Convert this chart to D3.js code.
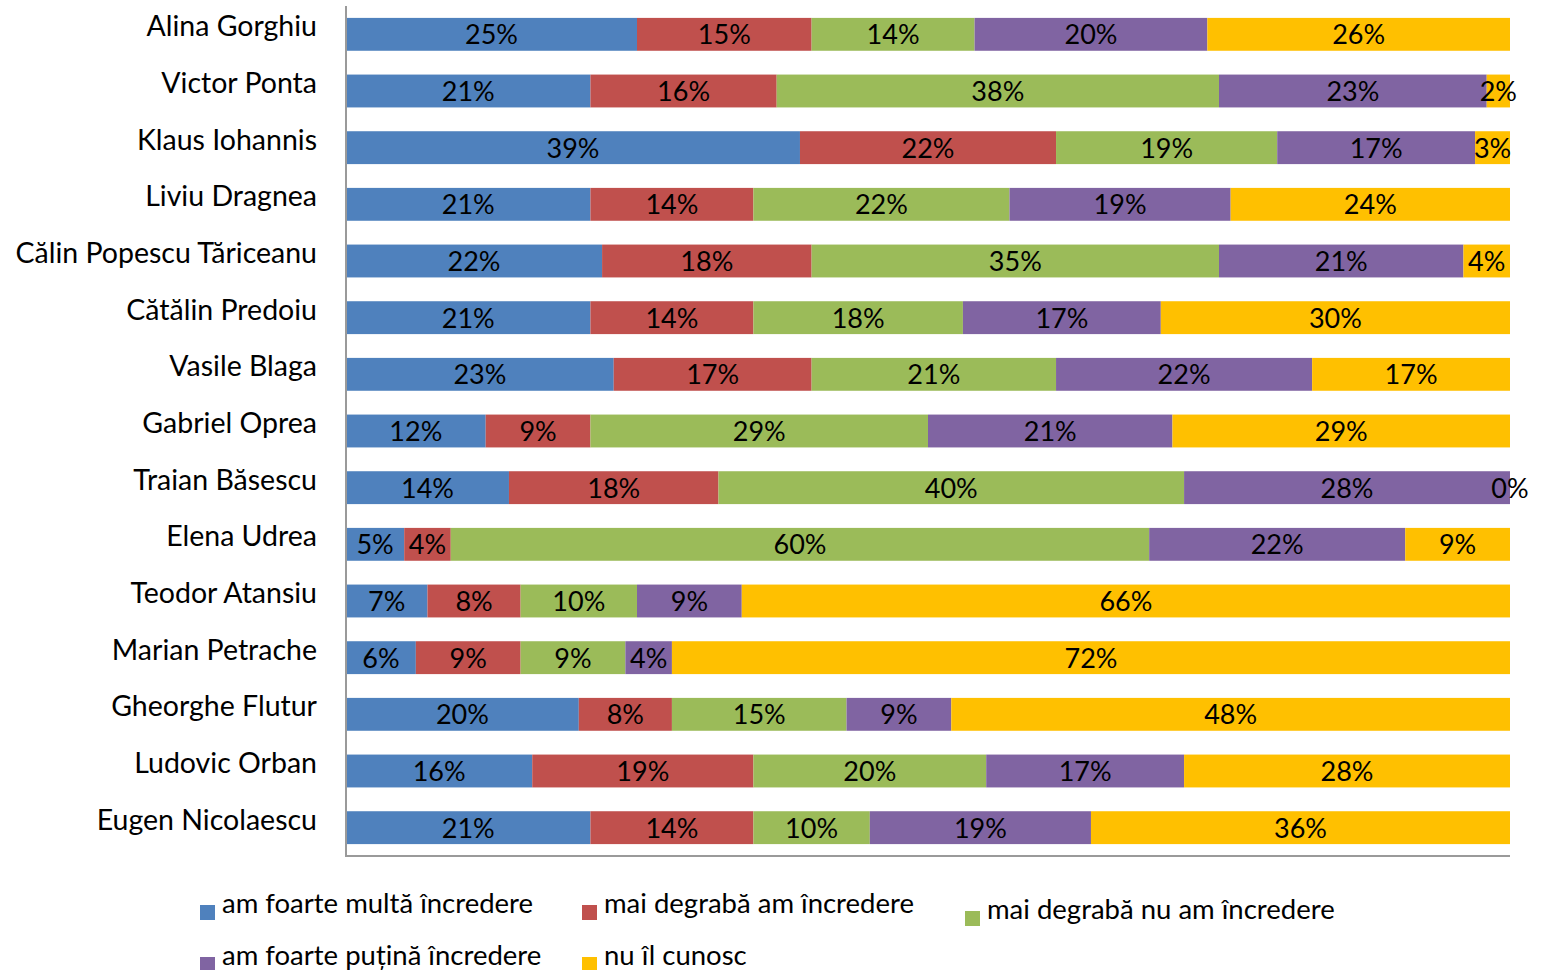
<!DOCTYPE html>
<html>
<head>
<meta charset="utf-8">
<script src="https://cdnjs.cloudflare.com/ajax/libs/d3/7.8.5/d3.min.js"></script>
<style>
  body { margin: 0; background: #fff; }
  text { font-family: Lato, "Open Sans", sans-serif; fill: #000; }
</style>
</head>
<body>
<svg width="1542" height="970"></svg>
<script>
// politicians, top to bottom
var names = ["Alina Gorghiu", "Victor Ponta", "Klaus Iohannis", "Liviu Dragnea",
  "Călin Popescu Tăriceanu", "Cătălin Predoiu", "Vasile Blaga", "Gabriel Oprea",
  "Traian Băsescu", "Elena Udrea", "Teodor Atansiu", "Marian Petrache",
  "Gheorghe Flutur", "Ludovic Orban", "Eugen Nicolaescu"];

// answer categories (legend order)
var answers = ["am foarte multă încredere", "mai degrabă am încredere",
  "mai degrabă nu am încredere", "am foarte puțină încredere", "nu îl cunosc"];

// percentages per answer, same order as names
var foarteMulta   = [25, 21, 39, 21, 22, 21, 23, 12, 14, 5, 7, 6, 20, 16, 21];
var degrabaAm     = [15, 16, 22, 14, 18, 14, 17, 9, 18, 4, 8, 9, 8, 19, 14];
var degrabaNuAm   = [14, 38, 19, 22, 35, 18, 21, 29, 40, 60, 10, 9, 15, 20, 10];
var foartePutina  = [20, 23, 17, 19, 21, 17, 22, 21, 28, 22, 9, 4, 9, 17, 19];
var nuIlCunosc    = [26, 2, 3, 24, 4, 30, 17, 29, 0, 9, 66, 72, 48, 28, 36];

var colors = ["#4F81BD", "#C0504D", "#9BBB59", "#8064A2", "#FFC000"];

var series = [foarteMulta, degrabaAm, degrabaNuAm, foartePutina, nuIlCunosc];
var rows = names.map(function(n, i) {
  var r = {name: n};
  answers.forEach(function(a, k) { r[a] = series[k][i]; });
  return r;
});

var svg = d3.select("svg");
var x = d3.scaleLinear().domain([0, 100]).range([346, 1510]);
var y = d3.scaleBand().domain(names).range([6, 856]).paddingInner(0.42).paddingOuter(0.21);

var stacked = d3.stack().keys(answers)(rows);

// segments
var layers = svg.selectAll(".layer")
  .data(stacked)
  .enter().append("g")
  .attr("class", "layer")
  .attr("fill", function(d, k) { return colors[k]; });

layers.selectAll("rect")
  .data(function(d) { return d; })
  .enter().append("rect")
  .attr("x", function(d) { return x(d[0]); })
  .attr("y", function(d) { return y(d.data.name); })
  .attr("width", function(d) { return x(d[1]) - x(d[0]); })
  .attr("height", y.bandwidth());

// percent labels in the middle of each segment
layers.selectAll("text")
  .data(function(d) { return d; })
  .enter().append("text")
  .attr("x", function(d) { return (x(d[0]) + x(d[1])) / 2; })
  .attr("y", function(d) { return y(d.data.name) + y.bandwidth() / 2 + 10; })
  .attr("text-anchor", "middle")
  .style("font-size", "27px")
  .text(function(d) { return (d[1] - d[0]) + "%"; });

// axis lines
svg.append("line").attr("x1", 346).attr("x2", 346).attr("y1", 6).attr("y2", 856)
  .attr("stroke", "#9a9a9a").attr("stroke-width", 2);
svg.append("line").attr("x1", 345).attr("x2", 1510).attr("y1", 856).attr("y2", 856)
  .attr("stroke", "#9a9a9a").attr("stroke-width", 2);

// category labels (sit a bit above the bar centre)
svg.selectAll(".cat")
  .data(names)
  .enter().append("text")
  .attr("class", "cat")
  .attr("x", 317)
  .attr("y", function(d) { return y(d) + y.bandwidth() / 2 + 2; })
  .attr("text-anchor", "end")
  .style("font-size", "28.5px")
  .text(function(d) { return d; });

// legend
var legendPos = [[200, 905], [582, 905], [965, 911], [200, 957], [582, 957]];
var legend = svg.selectAll(".leg")
  .data(answers)
  .enter().append("g")
  .attr("class", "leg")
  .attr("transform", function(d, k) { return "translate(" + legendPos[k][0] + "," + legendPos[k][1] + ")"; });

legend.append("rect")
  .attr("width", 15).attr("height", 15)
  .attr("fill", function(d, k) { return colors[k]; });

legend.append("text")
  .attr("x", 22)
  .attr("y", 8)
  .style("font-size", "27.5px")
  .text(function(d) { return d; });
</script>
</body>
</html>
